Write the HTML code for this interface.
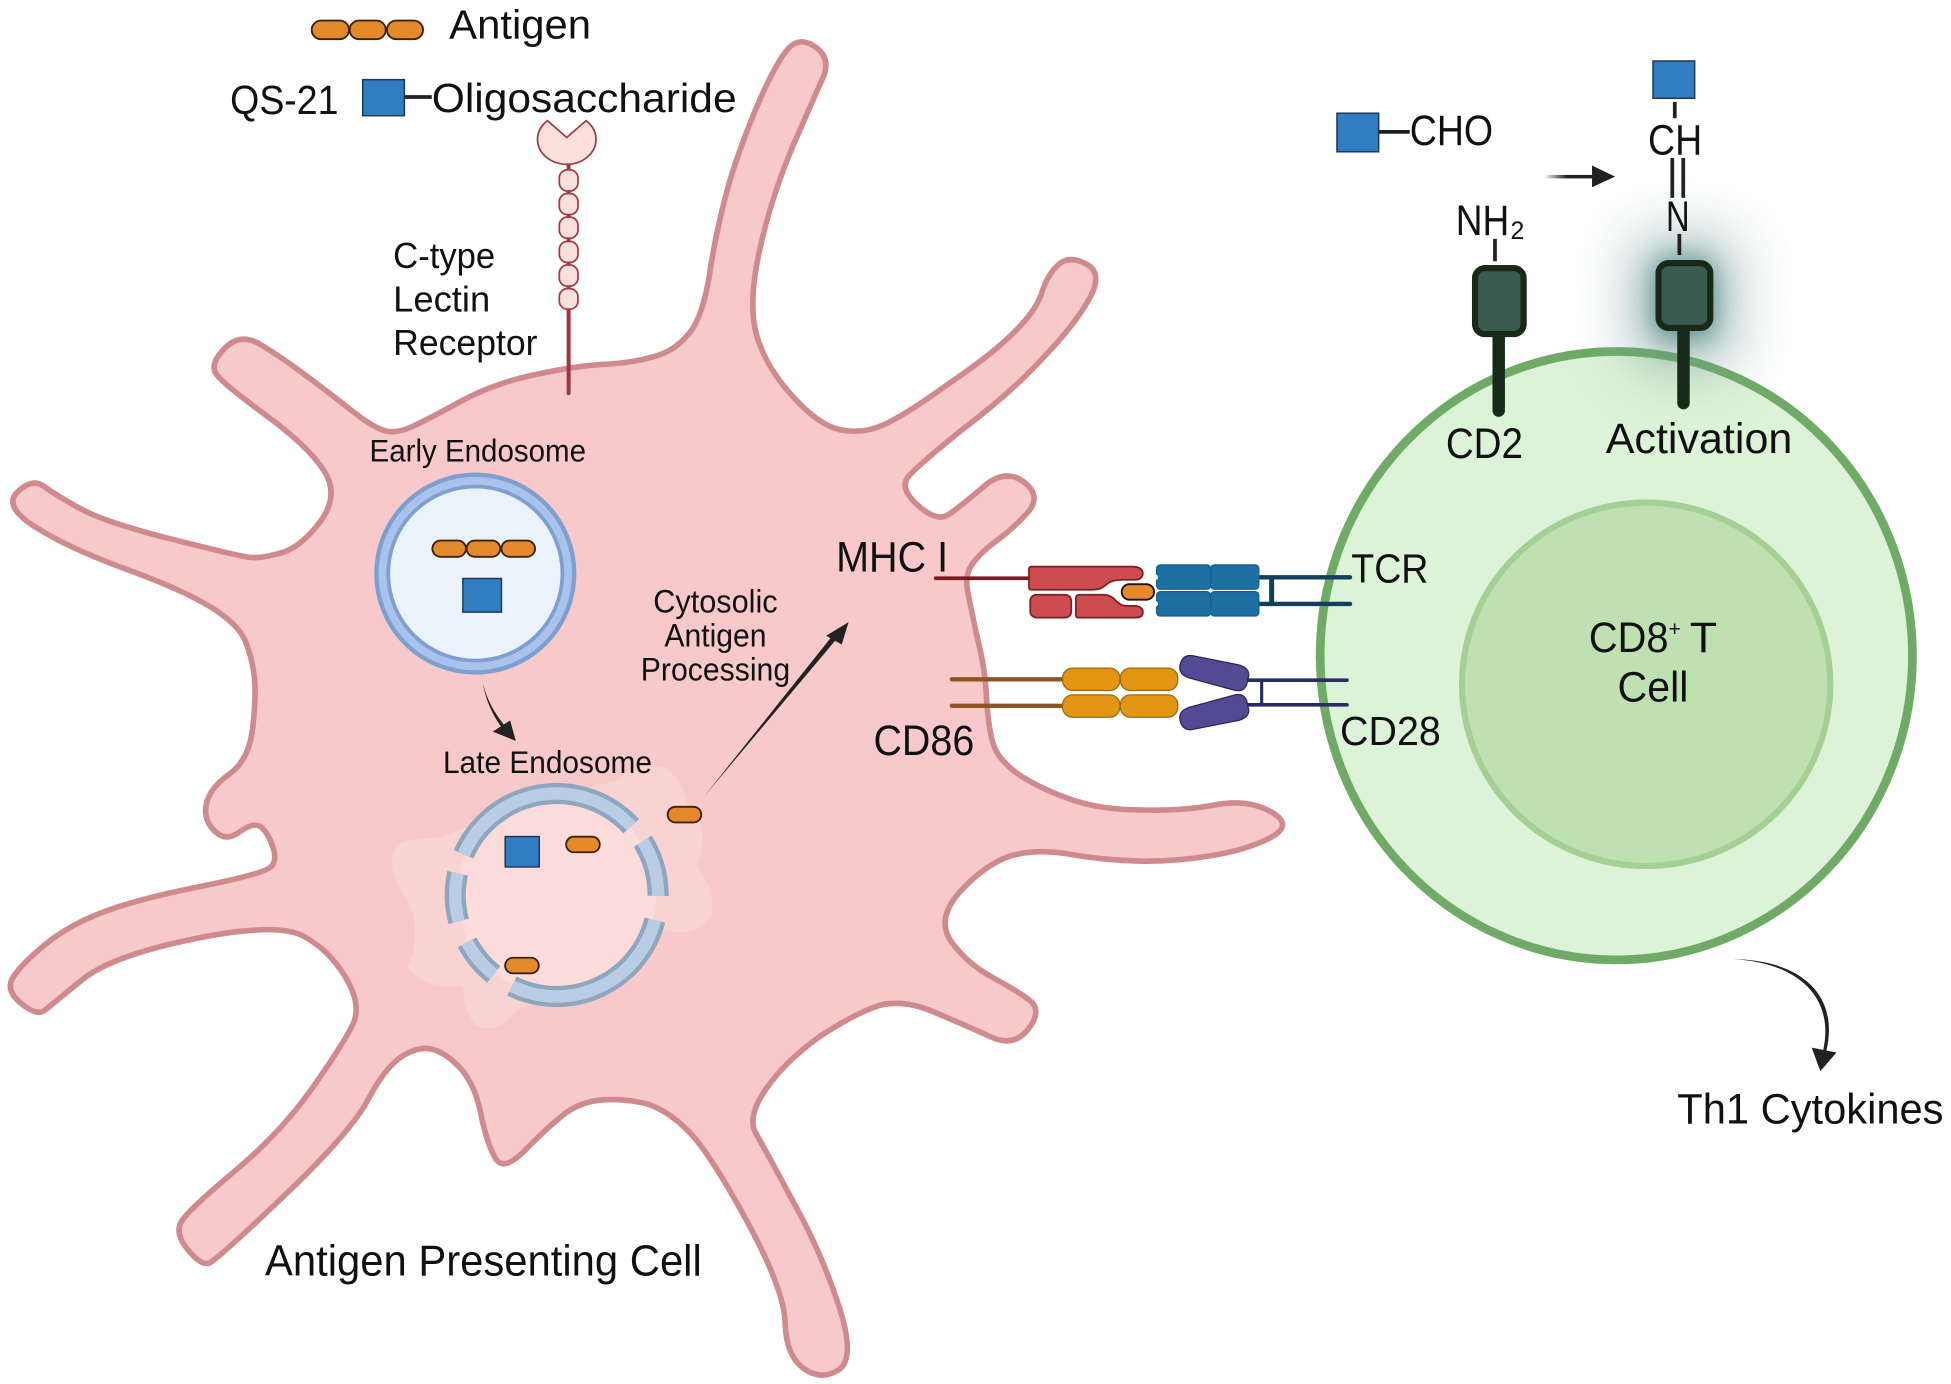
<!DOCTYPE html>
<html><head><meta charset="utf-8"><title>Antigen presentation diagram</title>
<style>html,body{margin:0;padding:0;background:#fff}svg{display:block}text{font-family:"Liberation Sans",sans-serif;fill:#111}</style></head>
<body>
<svg xmlns="http://www.w3.org/2000/svg" width="1951" height="1384" viewBox="0 0 1568 1112.4" preserveAspectRatio="none">
<defs>
<filter id="gl" x="-150%" y="-150%" width="400%" height="400%"><feGaussianBlur stdDeviation="11"/></filter>
<filter id="gl2" x="-200%" y="-200%" width="500%" height="500%"><feGaussianBlur stdDeviation="24"/></filter>
<linearGradient id="ag" x1="0" x2="1" y1="0" y2="0"><stop offset="0" stop-color="#222" stop-opacity="0"/><stop offset=".45" stop-color="#222"/></linearGradient>
</defs>
<rect width="1568" height="1113" fill="#fff"/>

<!-- APC -->
<path fill="#f7c9cb" stroke="#cf8a8d" stroke-width="4.5" stroke-linejoin="round" d="M426 302 Q457 295 482 293 Q507 292 524 287 Q541 283 552 270 Q564 258 570 222 Q575 187 586 147 Q598 108 613 75 Q628 42 637 36 Q646 30 657 39 Q668 48 661 63.5 Q654 79 637 118 Q620 158 610.5 201 Q601 244 608 269 Q615 294 636.5 318 Q658 342 675.5 345.5 Q693 349 710 341.5 Q727 334 763 308 Q800 283 817 265 Q834 248 838 233 Q843 219 851.5 212 Q860 205 873.5 212.5 Q887 220 875 241 Q863 262 837 289 Q812 316 775 344 Q739 373 730.5 382.5 Q722 392 737.5 406 Q753 420 762.5 413.5 Q772 407 790 391.5 Q808 376 823 387.5 Q838 399 825 413 Q812 427 799 436 Q787 445 781 454 Q775 463 778 477 Q781 492 786 515 Q792 538 793 564 Q795 590 799 600 Q803 611 818 622 Q834 633 859 642 Q884 651 917 651 Q950 652 976 647 Q1003 642 1021.5 652.5 Q1040 663 1021.5 673 Q1003 683 972 688 Q940 693 912 692 Q884 691 856 686 Q829 682 809 689 Q789 697 770 718.5 Q752 740 765 757.5 Q778 775 797.5 785.5 Q817 796 827.5 804 Q838 812 826.5 827 Q815 842 796.5 833.5 Q778 825 752 814 Q727 803 707 808 Q688 814 659 833 Q631 853 615.5 875.5 Q600 898 607.5 911 Q615 924 637 965 Q660 1006 674 1049 Q688 1092 674 1101 Q660 1110 646 1100 Q632 1090 631 1064 Q631 1038 600 981 Q569 924 552 908 Q536 892 519 887 Q502 883 485 884 Q468 885 454 895 Q440 906 422.5 924 Q405 942 398.5 931.5 Q392 921 387 898 Q383 875 372 861 Q361 848 349.5 844 Q338 840 324 848.5 Q310 857 296 883.5 Q282 910 228.5 961 Q175 1012 168.5 1015 Q162 1018 151 1004.5 Q140 991 146 981.5 Q152 972 189 941 Q226 910 251 874.5 Q276 839 283.5 823.5 Q291 808 278 786 Q265 764 244 752.5 Q223 741 156.5 754.5 Q90 768 66 787.5 Q42 807 36 812 Q30 817 17 806.5 Q4 796 10.5 785.5 Q17 775 36.5 759 Q56 743 84.5 732.5 Q113 722 163.5 712 Q214 702 218.5 696 Q223 690 218.5 678.5 Q214 667 208.5 664 Q203 661 192 669 Q181 677 172 667.5 Q163 658 166 645.5 Q169 633 184.5 622 Q200 611 203 585.5 Q206 560 204.5 545 Q203 530 197.5 516 Q192 502 169.5 488 Q147 474 101.5 457.5 Q56 441 29 424 Q2 407 14 395.5 Q26 384 35.5 391 Q45 398 65 409 Q85 420 138.5 433.5 Q192 447 200.5 448 Q209 449 225.5 444.5 Q242 440 257.5 419 Q273 398 260.5 378.5 Q248 359 214 334 Q180 309 174 301 Q168 293 180.5 280 Q193 267 209.5 277 Q226 287 245.5 301.5 Q265 316 282 329.5 Q299 343 308.5 346 Q318 349 331 343 Q344 337 369.5 323 Q395 309 426 302 Z"/>

<!-- Early endosome -->
<circle cx="382" cy="461" r="79.5" fill="#a9c4ec" stroke="#7e9fd0" stroke-width="3.5"/>
<circle cx="382" cy="461" r="70" fill="#eaf3fb" stroke="#7e9fd0" stroke-width="3"/>
<g fill="#e58a2b" stroke="#3a220c" stroke-width="1.5">
<rect x="347.5" y="434.5" width="27" height="13" rx="6.5"/><rect x="375" y="434.5" width="27" height="13" rx="6.5"/><rect x="403" y="434.5" width="27" height="13" rx="6.5"/>
</g>
<rect x="372" y="465" width="31" height="27" fill="#317dc4" stroke="#1d3a55" stroke-width="1.2"/>

<!-- Late endosome -->
<path fill="#f9d2d2" d="M497 627 Q509 612 533 617 Q546 622 552 645 Q572 665 560 696 Q575 715 572 735 Q560 755 534 747 L447 800 L415 812 Q400 832 382 824 Q372 810 372 793 Q340 795 327 777 Q340 755 328 725 Q305 690 322 678 Q335 672 350 674 L447 640 Z"/>
<circle cx="447.4" cy="719.3" r="80" fill="#fcdcdb"/>
<g fill="none" stroke="#8fa6bf" stroke-width="17">
<path d="M372.6 686.7 A81.5 81.5 0 0 1 507.3 664.1"/>
<path d="M516.6 676.2 A81.5 81.5 0 0 1 528.9 720.1"/>
<path d="M526.3 739.5 A81.5 81.5 0 0 1 411.4 792.6"/>
<path d="M396.8 783.2 A81.5 81.5 0 0 1 375.4 757.4"/>
<path d="M368.7 740.6 A81.5 81.5 0 0 1 367.8 701.9"/>
</g>
<g fill="none" stroke="#b9cee4" stroke-width="10">
<path d="M372.6 686.7 A81.5 81.5 0 0 1 507.3 664.1"/>
<path d="M516.6 676.2 A81.5 81.5 0 0 1 528.9 720.1"/>
<path d="M526.3 739.5 A81.5 81.5 0 0 1 411.4 792.6"/>
<path d="M396.8 783.2 A81.5 81.5 0 0 1 375.4 757.4"/>
<path d="M368.7 740.6 A81.5 81.5 0 0 1 367.8 701.9"/>
</g>
<rect x="406" y="672.4" width="27.4" height="24.4" fill="#317dc4" stroke="#1d3a55" stroke-width="1.2"/>
<g fill="#e58a2b" stroke="#3a220c" stroke-width="1.5">
<rect x="455" y="672.5" width="27" height="12.5" rx="6.2"/>
<rect x="536.6" y="648.5" width="27" height="12.5" rx="6.2"/>
<rect x="406" y="769.8" width="27" height="12.5" rx="6.2"/>
</g>

<!-- Arrows in cell -->
<path d="M388 549 C391 566 398 578 405 587 L407 585 C399 575 392 565 388 549 Z" fill="#222"/>
<polygon points="414.5,595.5 396,588 410,579" fill="#222"/>
<polygon points="566,640 669,511 672,514" fill="#222"/>
<polygon points="682,500 664,511 676.5,518" fill="#222"/>

<!-- Legend -->
<g fill="#e58a2b" stroke="#3a220c" stroke-width="1.5">
<rect x="250.5" y="16.5" width="30" height="15" rx="7.5"/><rect x="281" y="16.5" width="29" height="15" rx="7.5"/><rect x="311" y="16.5" width="29" height="15" rx="7.5"/>
</g>
<text x="361" y="31" font-size="33" textLength="114" lengthAdjust="spacingAndGlyphs">Antigen</text>
<text x="185" y="91.5" font-size="33" textLength="87" lengthAdjust="spacingAndGlyphs">QS-21</text>
<rect x="291.5" y="64" width="33.5" height="29" fill="#317dc4" stroke="#1d3a55" stroke-width="1.2"/>
<line x1="325" y1="78" x2="347" y2="78" stroke="#222" stroke-width="3"/>
<text x="347" y="90" font-size="33" textLength="245" lengthAdjust="spacingAndGlyphs">Oligosaccharide</text>

<!-- Receptor -->
<line x1="457" y1="130" x2="457" y2="316" stroke="#9e3540" stroke-width="3.2" stroke-linecap="round"/>
<path d="M440 97 L455.5 110.5 L471 97 A23.5 20 0 1 1 440 97 Z" fill="#fbe0dc" stroke="#a33a44" stroke-width="1.4"/>
<g fill="#fbe0dc" stroke="#a33a44" stroke-width="1.4">
<rect x="449.5" y="136.5" width="15" height="17" rx="6.5"/>
<rect x="449.5" y="155.5" width="15" height="17" rx="6.5"/>
<rect x="449.5" y="174.5" width="15" height="17" rx="6.5"/>
<rect x="449.5" y="194" width="15" height="17" rx="6.5"/>
<rect x="449.5" y="213" width="15" height="17" rx="6.5"/>
<rect x="449.5" y="232" width="15" height="16.5" rx="6.5"/>
</g>
<text x="316" y="215.5" font-size="29" textLength="82" lengthAdjust="spacingAndGlyphs">C-type</text>
<text x="316" y="250.5" font-size="29" textLength="78" lengthAdjust="spacingAndGlyphs">Lectin</text>
<text x="316" y="285.5" font-size="29" textLength="116" lengthAdjust="spacingAndGlyphs">Receptor</text>

<text x="297" y="371" font-size="25" textLength="174" lengthAdjust="spacingAndGlyphs">Early Endosome</text>
<text x="356" y="621.5" font-size="25" textLength="168" lengthAdjust="spacingAndGlyphs">Late Endosome</text>
<text x="525" y="492.5" font-size="26" textLength="100" lengthAdjust="spacingAndGlyphs">Cytosolic</text>
<text x="534" y="519.5" font-size="26" textLength="82" lengthAdjust="spacingAndGlyphs">Antigen</text>
<text x="515" y="547" font-size="26" textLength="120" lengthAdjust="spacingAndGlyphs">Processing</text>
<text x="672" y="459.5" font-size="34" textLength="90" lengthAdjust="spacingAndGlyphs">MHC I</text>
<text x="702" y="607" font-size="34" textLength="81" lengthAdjust="spacingAndGlyphs">CD86</text>
<text x="213" y="1025" font-size="35" textLength="351" lengthAdjust="spacingAndGlyphs">Antigen Presenting Cell</text>

<!-- T cell -->
<ellipse cx="1299" cy="527" rx="238" ry="244.5" fill="#ddf3d8" stroke="#6fab66" stroke-width="7"/>
<ellipse cx="1323" cy="550" rx="148" ry="146" fill="#bfe0b0" stroke="#a4d095" stroke-width="5"/>
<text x="1277" y="524" font-size="34" textLength="64" lengthAdjust="spacingAndGlyphs">CD8</text>
<text x="1341" y="511" font-size="17">+</text>
<text x="1358" y="524" font-size="34" textLength="22" lengthAdjust="spacingAndGlyphs">T</text>
<text x="1300" y="564" font-size="34" textLength="57" lengthAdjust="spacingAndGlyphs">Cell</text>

<!-- Synapse -->
<line x1="752" y1="464.8" x2="827" y2="464.8" stroke="#7a1a24" stroke-width="3" stroke-linecap="round"/>
<g fill="#cc4c50" stroke="#7d1d26" stroke-width="1.4">
<path d="M829 455.4 H911 Q918.5 456 918.5 461 Q918 466 912 466 H903 Q893 466 889 470 Q885 474 878 474 H829 Q827 474 827 472 V457.4 Q827 455.4 829 455.4 Z"/>
<rect x="828" y="478" width="33" height="18.4" rx="5"/>
<path d="M864.7 480 Q865 478 868 478 H887 Q893 478 897 483 Q901 487 905 487 H913 Q918.5 488 918.5 492 Q918.5 496.4 913 496.4 H866 Q864.7 496 864.7 494 Z"/>
</g>
<rect x="901.5" y="469.5" width="26" height="12.5" rx="6.2" fill="#e58a2b" stroke="#1d1208" stroke-width="1.5"/>
<line x1="1011" y1="464" x2="1085" y2="464" stroke="#123f5c" stroke-width="3.5" stroke-linecap="round"/>
<line x1="1011" y1="485.4" x2="1085" y2="485.4" stroke="#123f5c" stroke-width="3.5" stroke-linecap="round"/>
<line x1="1022" y1="464" x2="1022" y2="485" stroke="#123f5c" stroke-width="4"/>
<g fill="#1c6fa0" stroke="#16608c" stroke-width="1">
<rect x="929.5" y="454" width="43.5" height="19.6" rx="3"/><rect x="973" y="454" width="38.7" height="19.6" rx="3"/>
<rect x="929.5" y="475.5" width="43.5" height="19.6" rx="3"/><rect x="973" y="475.5" width="38.7" height="19.6" rx="3"/>
</g>
<circle cx="928.5" cy="464" r="2.2" fill="#fff"/><circle cx="928.5" cy="485.3" r="2.2" fill="#fff"/>
<line x1="765" y1="546" x2="855" y2="546" stroke="#8f5424" stroke-width="3.5" stroke-linecap="round"/>
<line x1="765" y1="567.3" x2="855" y2="567.3" stroke="#8f5424" stroke-width="3.5" stroke-linecap="round"/>
<g fill="#e29413" stroke="#9a6a12" stroke-width="1">
<rect x="854" y="537" width="46" height="18" rx="8"/><rect x="900.4" y="537" width="46.2" height="18" rx="8"/>
<rect x="854" y="558.5" width="46" height="18" rx="8"/><rect x="900.4" y="558.5" width="46.2" height="18" rx="8"/>
</g>
<line x1="1003" y1="546.7" x2="1082.5" y2="546.7" stroke="#2b2a63" stroke-width="3" stroke-linecap="round"/>
<line x1="1003" y1="566.5" x2="1082.5" y2="566.5" stroke="#2b2a63" stroke-width="3" stroke-linecap="round"/>
<line x1="1014" y1="546.7" x2="1014" y2="566.5" stroke="#2b2a63" stroke-width="2.5"/>
<g fill="#544993" stroke="#2d2660" stroke-width="1">
<path d="M958 527 L996 534.5 Q1004 537 1003.6 543 L1002 550 Q1000 556 993 555 L956 545 Q947 542 948.3 535 Q950 526 958 527 Z"/>
<path d="M958 586.4 L996 578.9 Q1004 576.4 1003.6 570.4 L1002 563.4 Q1000 557.4 993 558.4 L956 568.4 Q947 571.4 948.3 578.4 Q950 587.4 958 586.4 Z"/>
</g>
<text x="1086" y="468" font-size="33" textLength="62" lengthAdjust="spacingAndGlyphs">TCR</text>
<text x="1077" y="599" font-size="33" textLength="81" lengthAdjust="spacingAndGlyphs">CD28</text>

<!-- Activation glow + receptors -->
<rect x="1312" y="190" width="82" height="105" rx="14" fill="#6f9a94" opacity=".6" filter="url(#gl2)"/>
<rect x="1330" y="209" width="47" height="62" rx="10" fill="#2f6f68" opacity=".7" filter="url(#gl)"/>
<line x1="1204.5" y1="268" x2="1204.5" y2="330" stroke="#172a1a" stroke-width="10" stroke-linecap="round"/>
<rect x="1185.5" y="215.5" width="39" height="53" rx="8" fill="#3a5c50" stroke="#172a1a" stroke-width="5"/>
<line x1="1201.5" y1="192" x2="1201.5" y2="210" stroke="#222" stroke-width="3"/>
<line x1="1353" y1="262" x2="1353" y2="324" stroke="#172a1a" stroke-width="10" stroke-linecap="round"/>
<rect x="1333" y="211.5" width="41.5" height="52" rx="8" fill="#3a5c50" stroke="#172a1a" stroke-width="5"/>
<line x1="1349.7" y1="188" x2="1349.7" y2="205" stroke="#222" stroke-width="3"/>
<line x1="1344" y1="127" x2="1344" y2="159" stroke="#222" stroke-width="3"/>
<line x1="1352.8" y1="127" x2="1352.8" y2="159" stroke="#222" stroke-width="3"/>
<line x1="1346" y1="82" x2="1346" y2="95" stroke="#222" stroke-width="3"/>
<rect x="1328.5" y="49" width="33.5" height="30" fill="#317dc4" stroke="#1d3a55" stroke-width="1.2"/>
<rect x="1074.5" y="91" width="33.5" height="31" fill="#317dc4" stroke="#1d3a55" stroke-width="1.2"/>
<line x1="1108" y1="106" x2="1133" y2="106" stroke="#222" stroke-width="3"/>
<text x="1133" y="116.5" font-size="34" textLength="67" lengthAdjust="spacingAndGlyphs">CHO</text>
<text x="1324.5" y="124" font-size="34" textLength="43.5" lengthAdjust="spacingAndGlyphs">CH</text>
<text x="1339" y="185.7" font-size="34" textLength="19" lengthAdjust="spacingAndGlyphs">N</text>
<text x="1170" y="189" font-size="34" textLength="43" lengthAdjust="spacingAndGlyphs">NH</text>
<text x="1214" y="192" font-size="20">2</text>
<text x="1162" y="368" font-size="34" textLength="62" lengthAdjust="spacingAndGlyphs">CD2</text>
<text x="1290.5" y="364" font-size="34" textLength="150" lengthAdjust="spacingAndGlyphs">Activation</text>
<rect x="1241" y="140.6" width="40" height="2.8" fill="url(#ag)"/>
<polygon points="1298,142 1279.5,133 1279.5,150.5" fill="#222"/>

<!-- Cytokines -->
<path d="M1393 771 C1442 771 1480 796 1467.5 846 L1465 845.5 C1476 798 1440 773 1393 771 Z" fill="#222"/>
<polygon points="1456,842 1476,846 1463,861" fill="#222"/>
<text x="1348" y="903" font-size="34" textLength="214" lengthAdjust="spacingAndGlyphs">Th1 Cytokines</text>
</svg>
</body></html>
